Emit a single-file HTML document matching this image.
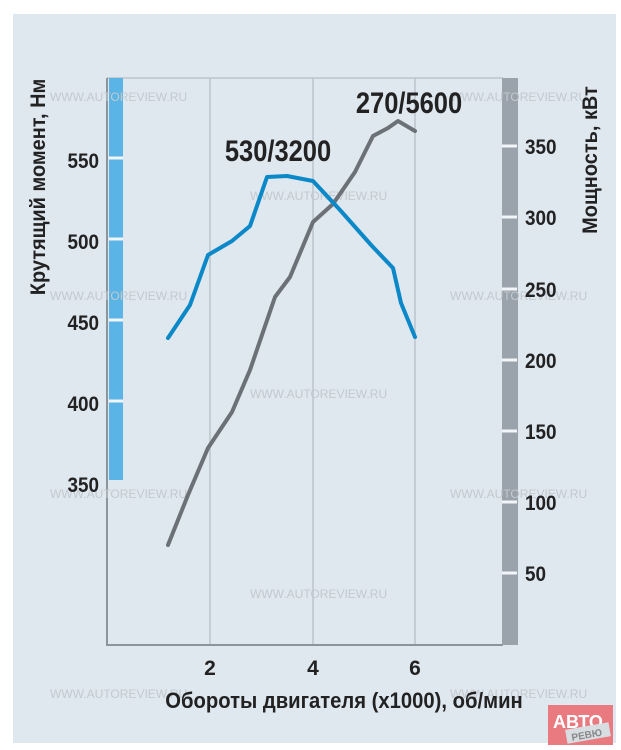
<!DOCTYPE html>
<html><head><meta charset="utf-8"><style>
html,body{margin:0;padding:0;background:#fff;}
svg{display:block;}
text{font-family:"Liberation Sans","Noto Sans CJK SC",sans-serif;font-weight:bold;}
</style></head><body>
<svg width="621" height="750" viewBox="0 0 621 750" xmlns="http://www.w3.org/2000/svg">
<rect x="0" y="0" width="621" height="750" fill="#fff"/>
<rect x="13" y="14" width="603" height="729" fill="#dfe7ef"/>
<g stroke="#bcc4cc" stroke-width="1.5">
<line x1="210" y1="78" x2="210" y2="645"/>
<line x1="313" y1="78" x2="313" y2="645"/>
<line x1="415" y1="78" x2="415" y2="645"/>
<line x1="107" y1="78" x2="503" y2="78"/>
</g>
<line x1="107" y1="78" x2="107" y2="646" stroke="#8d959c" stroke-width="2"/>
<line x1="106" y1="645" x2="503" y2="645" stroke="#8d959c" stroke-width="2"/>
<rect x="109" y="78" width="14" height="402" fill="#5ab4e5"/>
<g stroke="#f2f6f9" stroke-width="3">
<line x1="109" y1="158" x2="123" y2="158"/>
<line x1="109" y1="239" x2="123" y2="239"/>
<line x1="109" y1="320" x2="123" y2="320"/>
<line x1="109" y1="401" x2="123" y2="401"/>
</g>
<rect x="502" y="78" width="16" height="567" fill="#9aa3ab"/>
<g stroke="#f2f6f9" stroke-width="3">
<line x1="502" y1="146" x2="517" y2="146"/>
<line x1="502" y1="217" x2="517" y2="217"/>
<line x1="502" y1="289" x2="517" y2="289"/>
<line x1="502" y1="360" x2="517" y2="360"/>
<line x1="502" y1="431" x2="517" y2="431"/>
<line x1="502" y1="502" x2="517" y2="502"/>
<line x1="502" y1="573" x2="517" y2="573"/>
</g>
<g fill="#c3c9cf" font-size="12">
<text x="50" y="101" style="font-weight:normal">WWW.AUTOREVIEW.RU</text>
<text x="450" y="101" style="font-weight:normal">WWW.AUTOREVIEW.RU</text>
<text x="50" y="300" style="font-weight:normal">WWW.AUTOREVIEW.RU</text>
<text x="450" y="300" style="font-weight:normal">WWW.AUTOREVIEW.RU</text>
<text x="250" y="200" style="font-weight:normal">WWW.AUTOREVIEW.RU</text>
<text x="250" y="398" style="font-weight:normal">WWW.AUTOREVIEW.RU</text>
<text x="50" y="498" style="font-weight:normal">WWW.AUTOREVIEW.RU</text>
<text x="450" y="498" style="font-weight:normal">WWW.AUTOREVIEW.RU</text>
<text x="250" y="598" style="font-weight:normal">WWW.AUTOREVIEW.RU</text>
<text x="50" y="698" style="font-weight:normal">WWW.AUTOREVIEW.RU</text>
<text x="450" y="698" style="font-weight:normal">WWW.AUTOREVIEW.RU</text>
</g>
<polyline fill="none" stroke="#6b7177" stroke-width="4" stroke-linejoin="round" stroke-linecap="round"
points="168,545 188,495 208,448 232,412 250,370 275,297 290,277 313,222 333,204 355,172 373,136 388,128 398,121 415,131"/>
<polyline fill="none" stroke="#0a88c8" stroke-width="4" stroke-linejoin="round" stroke-linecap="round"
points="168,338 190,305 208,255 232,241 250,226 267,177 287,176 313,181 340,210 372,246 393,268 401,303 415,337"/>
<g font-size="21" fill="#222" text-anchor="end">
<text x="0" y="168" transform="translate(99,0) scale(0.9,1)">550</text>
<text x="0" y="249" transform="translate(99,0) scale(0.9,1)">500</text>
<text x="0" y="330" transform="translate(99,0) scale(0.9,1)">450</text>
<text x="0" y="411" transform="translate(99,0) scale(0.9,1)">400</text>
<text x="0" y="492" transform="translate(99,0) scale(0.9,1)">350</text>
</g>
<g font-size="21" fill="#222">
<text x="0" y="154" transform="translate(525,0) scale(0.9,1)">350</text>
<text x="0" y="225" transform="translate(525,0) scale(0.9,1)">300</text>
<text x="0" y="297" transform="translate(525,0) scale(0.9,1)">250</text>
<text x="0" y="368" transform="translate(525,0) scale(0.9,1)">200</text>
<text x="0" y="439" transform="translate(525,0) scale(0.9,1)">150</text>
<text x="0" y="510" transform="translate(525,0) scale(0.9,1)">100</text>
<text x="0" y="581" transform="translate(525,0) scale(0.9,1)">50</text>
</g>
<g font-size="21" fill="#222" text-anchor="middle">
<text x="210" y="675">2</text>
<text x="313" y="675">4</text>
<text x="415" y="675">6</text>
</g>
<text x="0" y="0" font-size="22" fill="#222" transform="translate(344,708) scale(0.92,1)" text-anchor="middle">Обороты двигателя (x1000), об/мин</text>
<text x="0" y="0" font-size="21" fill="#222" transform="translate(45,187) rotate(-90) scale(0.95,1)" text-anchor="middle">Крутящий момент, Нм</text>
<text x="0" y="0" font-size="21" fill="#222" transform="translate(597,160) rotate(-90) scale(0.95,1)" text-anchor="middle">Мощность, кВт</text>
<text x="0" y="0" font-size="30" fill="#222" transform="translate(278,161) scale(0.85,1)" text-anchor="middle">530/3200</text>
<text x="0" y="0" font-size="30" fill="#222" transform="translate(409,113) scale(0.85,1)" text-anchor="middle">270/5600</text>
<rect x="548" y="705" width="65" height="40" fill="#e97a80"/>
<text x="553" y="728" font-size="18" fill="#fff">АВТО</text>
<rect x="566" y="726" width="44" height="14" fill="#d8dde2" transform="rotate(-10,588,733)"/>
<text x="571" y="738" font-size="10" fill="#888" transform="rotate(-10,588,733)">РЕВЮ</text>
</svg>
</body></html>
